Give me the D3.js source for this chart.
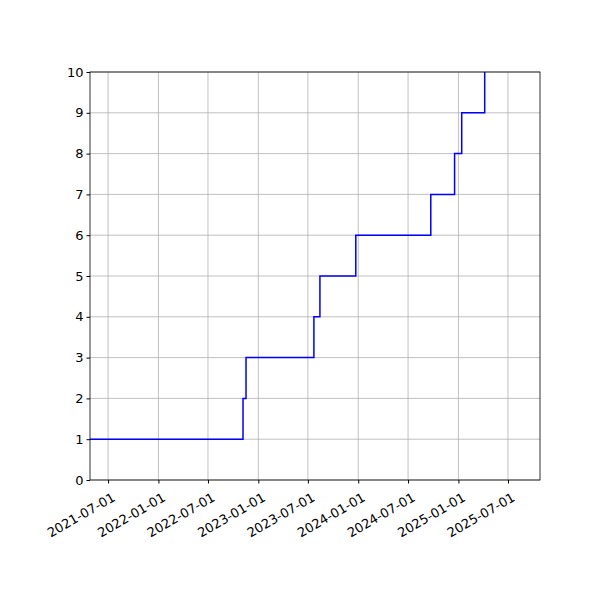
<!DOCTYPE html>
<html><head><meta charset="utf-8">
<script src="https://cdn.jsdelivr.net/npm/d3@7"></script>
<style>body{margin:0;background:#fff}</style></head>
<body><svg id="c" width="600" height="600"></svg>
<script>
const stepDates = ["2021-04-26","2022-11-06","2022-11-17","2023-07-23","2023-08-14","2023-12-23","2024-09-22","2024-12-18","2025-01-13","2025-04-07"];
const stepValues = [1,2,3,4,5,6,7,8,9,10];
const xTicks = ["2021-07-01","2022-01-01","2022-07-01","2023-01-01","2023-07-01","2024-01-01","2024-07-01","2025-01-01","2025-07-01"];
const yTicks = [0,1,2,3,4,5,6,7,8,9,10];
const xDomain = ["2021-04-26","2025-10-26"];

const p = d3.timeParse("%Y-%m-%d");
const L=90,R=540,T=72,B=480;
const svg=d3.select("#c");
const x=d3.scaleTime().domain(xDomain.map(p)).range([L,R]);
const y=d3.scaleLinear().domain([0,10]).range([B,T]);
const g=svg.append("g");
g.selectAll(".gx").data(xTicks).join("line").attr("x1",d=>x(p(d))).attr("x2",d=>x(p(d))).attr("y1",T).attr("y2",B).attr("stroke","#b0b0b0").attr("stroke-width",0.8);
g.selectAll(".gy").data(yTicks).join("line").attr("y1",d=>y(d)).attr("y2",d=>y(d)).attr("x1",L).attr("x2",R).attr("stroke","#b0b0b0").attr("stroke-width",0.8);
const data=stepDates.map((d,i)=>({d:p(d),v:stepValues[i]}));
svg.append("path").datum(data).attr("fill","none").attr("stroke","blue").attr("stroke-width",1.5)
 .attr("d",d3.line().x(d=>x(d.d)).y(d=>y(d.v)).curve(d3.curveStepAfter));
svg.append("rect").attr("x",L).attr("y",T).attr("width",R-L).attr("height",B-T).attr("fill","none").attr("stroke","#000").attr("stroke-width",0.8);
const ax=svg.append("g").attr("transform",`translate(0,${B})`).call(d3.axisBottom(x).tickValues(xTicks.map(p)).tickFormat(d3.timeFormat("%Y-%m-%d")).tickSize(3.5).tickPadding(3));
ax.select(".domain").remove();
ax.selectAll("text").attr("font-family","DejaVu Sans").attr("font-size",13).attr("fill","#000")
 .attr("text-anchor","end").attr("y",6).attr("dy","0").attr("transform","rotate(-30)").attr("dx","0").attr("x",0)
 .each(function(){d3.select(this).attr("transform","translate(0,7) rotate(-30) translate(0,9)");});
const ay=svg.append("g").attr("transform",`translate(${L},0)`).call(d3.axisLeft(y).tickValues(yTicks).tickSize(3.5).tickPadding(3));
ay.select(".domain").remove();
ay.selectAll("text").attr("font-family","DejaVu Sans").attr("font-size",13).attr("fill","#000");
</script></body></html>
